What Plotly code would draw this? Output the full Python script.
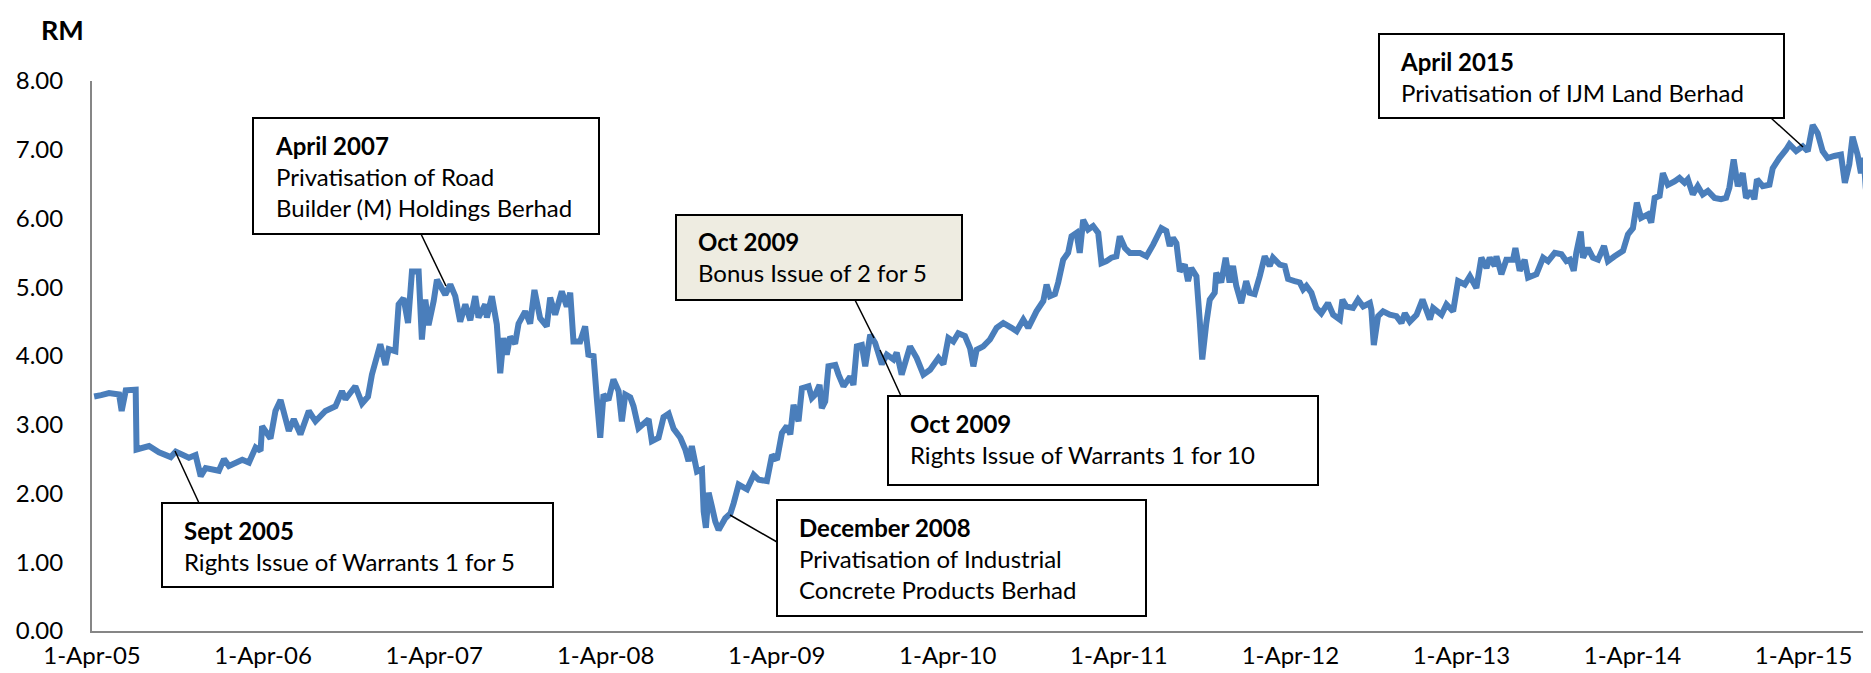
import plotly.graph_objects as go
import pandas as pd

# ---- data (decimal year, price in RM) ----
years_a = [2005.259, 2005.300, 2005.346, 2005.405, 2005.420, 2005.444, 2005.502, 2005.507, 2005.580, 2005.638,
           2005.707, 2005.736, 2005.813, 2005.852, 2005.882, 2005.911, 2005.988, 2006.018, 2006.047, 2006.125,
           2006.164, 2006.203, 2006.232, 2006.241, 2006.290, 2006.319, 2006.349, 2006.397, 2006.426, 2006.465,
           2006.514, 2006.553, 2006.611, 2006.670, 2006.708, 2006.728, 2006.786, 2006.825, 2006.860, 2006.883,
           2006.932, 2006.962, 2006.981, 2007.020, 2007.039, 2007.068, 2007.094, 2007.117, 2007.156, 2007.175,
           2007.195, 2007.214, 2007.244, 2007.263, 2007.312, 2007.341, 2007.370, 2007.399, 2007.429, 2007.458,
           2007.487, 2007.506, 2007.545, 2007.555, 2007.584, 2007.613, 2007.633, 2007.652, 2007.671, 2007.691,
           2007.720, 2007.740, 2007.779, 2007.808, 2007.833, 2007.866]
price_a = [3.41, 3.43, 3.46, 3.44, 3.20, 3.50, 3.51, 2.64, 2.69, 2.60,
           2.53, 2.61, 2.52, 2.56, 2.25, 2.37, 2.33, 2.50, 2.40, 2.49,
           2.45, 2.67, 2.62, 2.98, 2.80, 3.20, 3.36, 2.91, 3.08, 2.86,
           3.20, 3.05, 3.20, 3.27, 3.49, 3.37, 3.56, 3.31, 3.41, 3.73,
           4.17, 3.87, 4.10, 4.07, 4.75, 4.84, 4.48, 5.23, 5.23, 4.24,
           4.82, 4.45, 4.80, 5.11, 4.89, 5.04, 4.87, 4.50, 4.75, 4.52,
           4.87, 4.56, 4.75, 4.56, 4.87, 4.46, 3.75, 4.26, 4.02, 4.28,
           4.18, 4.47, 4.65, 4.47, 4.96, 4.55]

years_b = [2007.905, 2007.925, 2007.954, 2007.993, 2008.022, 2008.042, 2008.061, 2008.100, 2008.129, 2008.148,
           2008.178, 2008.197, 2008.217, 2008.236, 2008.265, 2008.294, 2008.324, 2008.343, 2008.363, 2008.392,
           2008.411, 2008.440, 2008.499, 2008.518, 2008.557, 2008.586, 2008.616, 2008.645, 2008.684, 2008.713,
           2008.732, 2008.751, 2008.781, 2008.810, 2008.820, 2008.833, 2008.849, 2008.868, 2008.888, 2008.907,
           2008.946, 2008.976, 2008.995, 2009.024, 2009.073, 2009.112, 2009.141, 2009.189, 2009.219, 2009.248,
           2009.277, 2009.306, 2009.326, 2009.345, 2009.374, 2009.394, 2009.433, 2009.452, 2009.472, 2009.497,
           2009.510, 2009.530, 2009.549, 2009.589, 2009.608, 2009.637, 2009.676, 2009.695, 2009.715, 2009.744,
           2009.764, 2009.793, 2009.822, 2009.861, 2009.890, 2009.929, 2009.948, 2009.977, 2010.026, 2010.065,
           2010.104, 2010.143, 2010.192, 2010.221, 2010.250, 2010.279, 2010.308, 2010.347, 2010.377, 2010.396,
           2010.415, 2010.454]
price_b = [4.43, 4.85, 4.60, 4.94, 4.72, 4.92, 4.21, 4.21, 4.43, 4.02,
           4.00, 3.39, 2.81, 3.44, 3.36, 3.66, 3.49, 3.05, 3.44, 3.40,
           3.27, 2.95, 3.08, 2.76, 2.81, 3.11, 3.16, 2.94, 2.81, 2.64,
           2.47, 2.69, 2.32, 2.35, 1.74, 1.50, 2.01, 1.81, 1.59, 1.47,
           1.64, 1.71, 1.86, 2.13, 2.06, 2.27, 2.20, 2.18, 2.56, 2.49,
           2.88, 2.98, 2.86, 3.29, 3.05, 3.53, 3.56, 3.39, 3.44, 3.58,
           3.24, 3.34, 3.85, 3.87, 3.73, 3.56, 3.70, 3.58, 4.14, 4.16,
           3.85, 4.31, 4.19, 3.88, 4.02, 3.95, 4.05, 3.73, 4.14, 3.97,
           3.73, 3.80, 3.97, 3.88, 4.26, 4.21, 4.33, 4.29, 4.11, 3.85,
           4.09, 4.14]

years_c = [2010.493, 2010.532, 2010.571, 2010.619, 2010.649, 2010.688, 2010.717, 2010.765, 2010.805, 2010.824,
           2010.844, 2010.873, 2010.892, 2010.921, 2010.950, 2010.970, 2010.999, 2011.018, 2011.038, 2011.067,
           2011.096, 2011.126, 2011.145, 2011.174, 2011.203, 2011.232, 2011.252, 2011.282, 2011.311, 2011.369,
           2011.408, 2011.447, 2011.495, 2011.524, 2011.544, 2011.563, 2011.583, 2011.603, 2011.632, 2011.651,
           2011.670, 2011.700, 2011.719, 2011.734, 2011.758, 2011.778, 2011.807, 2011.816, 2011.845, 2011.871,
           2011.894, 2011.914, 2011.933, 2011.962, 2011.991, 2012.011, 2012.040, 2012.070, 2012.099, 2012.128,
           2012.147, 2012.186, 2012.216, 2012.235, 2012.274, 2012.303, 2012.323, 2012.342, 2012.371, 2012.400,
           2012.429, 2012.468, 2012.498, 2012.537, 2012.552, 2012.575, 2012.614, 2012.643, 2012.673, 2012.712,
           2012.721, 2012.735, 2012.760, 2012.789, 2012.828, 2012.867, 2012.896, 2012.916, 2012.945, 2012.984,
           2013.019, 2013.062, 2013.081]
price_c = [4.24, 4.41, 4.48, 4.41, 4.36, 4.53, 4.41, 4.65, 4.80, 5.04,
           4.87, 4.90, 5.07, 5.40, 5.50, 5.74, 5.79, 5.50, 5.98, 5.84,
           5.89, 5.79, 5.35, 5.38, 5.43, 5.45, 5.74, 5.57, 5.50, 5.50,
           5.45, 5.62, 5.86, 5.82, 5.60, 5.72, 5.64, 5.23, 5.33, 5.09,
           5.28, 5.16, 4.53, 3.95, 4.48, 4.82, 4.92, 5.21, 5.07, 5.43,
           5.07, 5.31, 5.02, 4.77, 5.09, 4.92, 4.90, 5.16, 5.45, 5.31,
           5.43, 5.33, 5.31, 5.12, 5.09, 5.07, 4.97, 5.02, 4.92, 4.70,
           4.62, 4.77, 4.60, 4.53, 4.82, 4.72, 4.70, 4.82, 4.72, 4.77,
           4.67, 4.16, 4.58, 4.65, 4.60, 4.58, 4.48, 4.62, 4.50, 4.60,
           4.82, 4.53, 4.70]

years_d = [2013.130, 2013.159, 2013.198, 2013.227, 2013.266, 2013.296, 2013.334, 2013.363, 2013.393, 2013.412,
           2013.441, 2013.451, 2013.480, 2013.509, 2013.548, 2013.562, 2013.587, 2013.616, 2013.636, 2013.685,
           2013.724, 2013.753, 2013.792, 2013.831, 2013.860, 2013.880, 2013.903, 2013.918, 2013.944, 2013.957,
           2013.986, 2014.015, 2014.045, 2014.080, 2014.103, 2014.142, 2014.191, 2014.220, 2014.249, 2014.272,
           2014.297, 2014.336, 2014.356, 2014.376, 2014.405, 2014.424, 2014.453, 2014.492, 2014.521, 2014.551,
           2014.570, 2014.599, 2014.628, 2014.657, 2014.687, 2014.726, 2014.764, 2014.794, 2014.813, 2014.838,
           2014.862, 2014.891, 2014.910, 2014.940, 2014.959, 2014.974, 2015.008, 2015.047, 2015.066, 2015.105,
           2015.144, 2015.164, 2015.203, 2015.242, 2015.271, 2015.300, 2015.329, 2015.358, 2015.387, 2015.426,
           2015.465, 2015.488, 2015.514, 2015.533, 2015.562, 2015.582, 2015.598, 2015.610, 2015.622, 2015.632,
           2015.638]
price_d = [4.60, 4.75, 4.65, 5.09, 5.04, 5.16, 4.99, 5.43, 5.28, 5.43,
           5.31, 5.45, 5.19, 5.40, 5.40, 5.57, 5.24, 5.40, 5.14, 5.19,
           5.43, 5.38, 5.50, 5.48, 5.38, 5.40, 5.24, 5.50, 5.81, 5.43,
           5.57, 5.43, 5.40, 5.60, 5.38, 5.45, 5.53, 5.77, 5.86, 6.23,
           6.01, 6.06, 5.94, 6.30, 6.33, 6.66, 6.49, 6.54, 6.59, 6.52,
           6.57, 6.35, 6.47, 6.35, 6.40, 6.30, 6.28, 6.30, 6.45, 6.86,
           6.47, 6.66, 6.30, 6.40, 6.28, 6.57, 6.47, 6.49, 6.73, 6.88,
           7.00, 7.08, 6.98, 7.05, 6.98, 7.36, 7.24, 6.98, 6.88, 6.91,
           6.93, 6.52, 6.79, 7.19, 6.93, 6.66, 6.88, 6.45, 6.20, 6.01,
           6.08]

tick_dates = ["2005-04-01", "2006-04-01", "2007-04-01", "2008-04-01", "2009-04-01", "2010-04-01",
              "2011-04-01", "2012-04-01", "2013-04-01", "2014-04-01", "2015-04-01"]
tick_labels = ["1-Apr-05", "1-Apr-06", "1-Apr-07", "1-Apr-08", "1-Apr-09", "1-Apr-10",
               "1-Apr-11", "1-Apr-12", "1-Apr-13", "1-Apr-14", "1-Apr-15"]
y_ticks = [0, 1, 2, 3, 4, 5, 6, 7, 8]


def dec_to_date(y):
    yr = int(y)
    start = pd.Timestamp(yr, 1, 1)
    end = pd.Timestamp(yr + 1, 1, 1)
    return start + (y - yr) * (end - start)


years = years_a + years_b + years_c + years_d
prices = price_a + price_b + price_c + price_d
dates = [dec_to_date(v) for v in years]

FONT = "Lato, Carlito, Calibri, sans-serif"
W, H = 1871, 673
L, R, T, B = 84, 8, 73, 50
PW, PH = W - L - R, H - T - B


def px(x):
    return (x - L) / PW


def py(y):
    return (H - B - y) / PH


fig = go.Figure()
fig.add_trace(go.Scatter(x=dates, y=prices, mode="lines",
                         line=dict(color="#4A7EBB", width=6, simplify=False), hoverinfo="skip",
                         showlegend=False))

# annotation boxes: (x0, x1, y0, y1, fill, text_x, text_center_y, text)
boxes = [
    (154, 545, 495, 579, "white", 174, 538, "<b>Sept 2005</b><br>Rights Issue of Warrants 1 for 5"),
    (245, 591, 110, 226, "white", 265, 168, "<b>April 2007</b><br>Privatisation of Road<br>Builder (M) Holdings Berhad"),
    (668, 954, 207, 292, "#EEECE1", 688, 249, "<b>Oct 2009</b><br>Bonus Issue of 2 for 5"),
    (880, 1310, 388, 477, "white", 900, 431, "<b>Oct 2009</b><br>Rights Issue of Warrants 1 for 10"),
    (769, 1138, 492, 608, "white", 789, 550, "<b>December 2008</b><br>Privatisation of Industrial<br>Concrete Products Berhad"),
    (1371, 1776, 26, 110, "white", 1390, 69, "<b>April 2015</b><br>Privatisation of IJM Land Berhad"),
]
arrows = [
    (191, 495, 167, 443),
    (413, 226, 438, 278),
    (847, 292, 866, 330),
    (893, 388, 872, 342),
    (769, 534, 722, 507),
    (1763, 110, 1795, 139),
]

shapes = []
annotations = []
for (x0, y0, x1, y1) in arrows:
    shapes.append(dict(type="line", xref="paper", yref="paper",
                       x0=px(x0), y0=py(y0), x1=px(x1), y1=py(y1),
                       line=dict(color="black", width=1.5)))
for (x0, x1, y0, y1, fill, tx, ty, txt) in boxes:
    shapes.append(dict(type="rect", xref="paper", yref="paper",
                       x0=px(x0), x1=px(x1), y0=py(y0), y1=py(y1),
                       fillcolor=fill, line=dict(color="black", width=2)))
    annotations.append(dict(xref="paper", yref="paper", x=px(tx), y=py(ty),
                            xanchor="left", yanchor="middle", align="left",
                            showarrow=False, text=txt,
                            font=dict(family=FONT, size=24, color="black")))

annotations.append(dict(xref="paper", yref="paper", x=px(54), y=py(22),
                        xanchor="center", yanchor="middle", showarrow=False,
                        text="<b>RM</b>", font=dict(family=FONT, size=27, color="black")))

fig.update_layout(
    width=W, height=H,
    margin=dict(l=L, r=R, t=T, b=B, autoexpand=False),
    paper_bgcolor="white", plot_bgcolor="white",
    shapes=shapes, annotations=annotations,
    font=dict(family=FONT, size=24, color="black"),
    xaxis=dict(type="date", range=[pd.Timestamp("2005-04-01"), dates[-1] + pd.Timedelta(days=1)],
               tickvals=[pd.Timestamp(d) for d in tick_dates], ticktext=tick_labels,
               showgrid=False, zeroline=False, showline=True, linecolor="#868686", linewidth=2,
               ticks="", ticklabelstandoff=2, tickfont=dict(family=FONT, size=24, color="black")),
    yaxis=dict(range=[0, 8], tickvals=y_ticks, tickformat=".2f",
               showgrid=False, zeroline=False, showline=True, linecolor="#868686", linewidth=2,
               ticks="", ticklabelstandoff=22, tickfont=dict(family=FONT, size=24, color="black")),
)

fig.write_html("out.html")
